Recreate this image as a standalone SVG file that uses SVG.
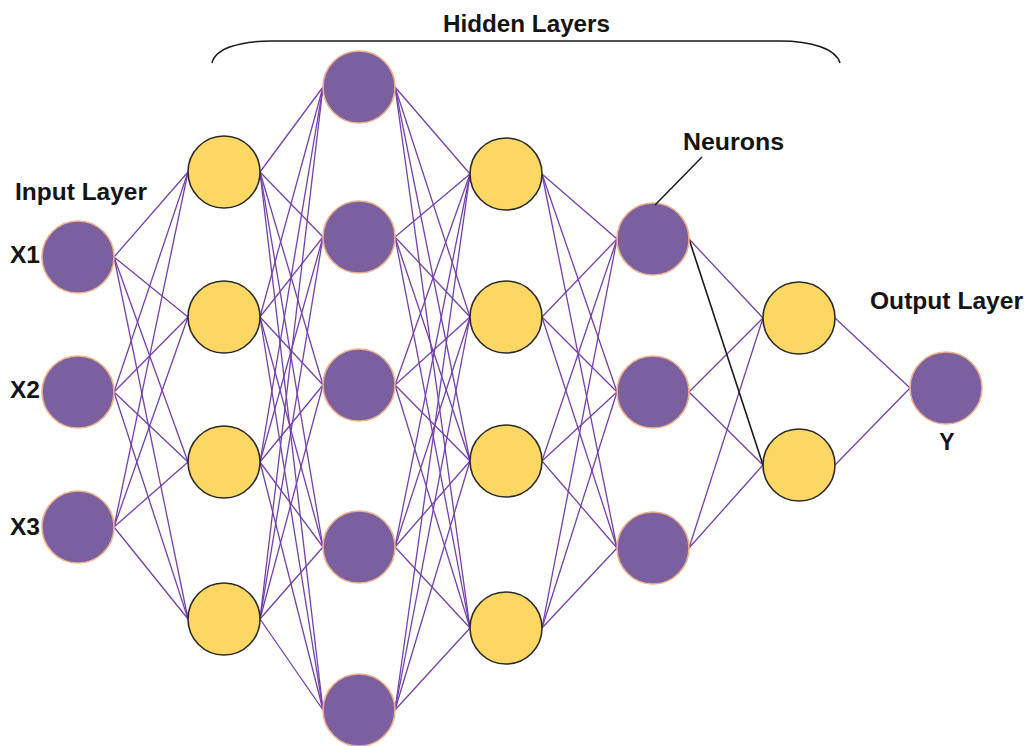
<svg xmlns="http://www.w3.org/2000/svg" width="1026" height="746" viewBox="0 0 1026 746">
  <style>
    .lbl { font-family: "Liberation Sans", Arial, sans-serif; font-weight: bold; font-size: 23px; fill: #141414; }
    .conn line { stroke: #7440ad; stroke-width: 1.3; }
    .conn line.dark { stroke: #1a1a1a; stroke-width: 1.6; }
    .purple { fill: #7b609f; stroke: #eeb08c; stroke-width: 1.6; }
    .yellow { fill: #fdd764; stroke: #2a2a2a; stroke-width: 1.6; }
    .ink { fill: none; stroke: #1a1a1a; stroke-width: 1.5; }
  </style>
  <rect width="1026" height="746" fill="#ffffff"/>

  <!-- brace over the hidden layers -->
  <g id="hidden-brace">
    <path class="ink" d="M212,63 C215,49 238,41 272,41 L780,41 C812,41 836,49 840,63"/>
    <text class="lbl" x="443" y="32" textLength="167" lengthAdjust="spacingAndGlyphs">Hidden Layers</text>
  </g>

  <!-- weighted connections between consecutive layers -->
  <g id="connectors" class="conn">
    <!-- input -> hidden 1 -->
    <line x1="114" y1="257" x2="188" y2="172"/><line x1="114" y1="257" x2="188" y2="317"/><line x1="114" y1="257" x2="188" y2="462"/><line x1="114" y1="257" x2="188" y2="619"/>
    <line x1="114" y1="392" x2="188" y2="172"/><line x1="114" y1="392" x2="188" y2="317"/><line x1="114" y1="392" x2="188" y2="462"/><line x1="114" y1="392" x2="188" y2="619"/>
    <line x1="114" y1="527" x2="188" y2="172"/><line x1="114" y1="527" x2="188" y2="317"/><line x1="114" y1="527" x2="188" y2="462"/><line x1="114" y1="527" x2="188" y2="619"/>
    <!-- hidden 1 -> hidden 2 -->
    <line x1="260" y1="172" x2="323" y2="87"/><line x1="260" y1="172" x2="323" y2="237"/><line x1="260" y1="172" x2="323" y2="385"/><line x1="260" y1="172" x2="323" y2="547"/><line x1="260" y1="172" x2="323" y2="710"/>
    <line x1="260" y1="317" x2="323" y2="87"/><line x1="260" y1="317" x2="323" y2="237"/><line x1="260" y1="317" x2="323" y2="385"/><line x1="260" y1="317" x2="323" y2="547"/><line x1="260" y1="317" x2="323" y2="710"/>
    <line x1="260" y1="462" x2="323" y2="87"/><line x1="260" y1="462" x2="323" y2="237"/><line x1="260" y1="462" x2="323" y2="385"/><line x1="260" y1="462" x2="323" y2="547"/><line x1="260" y1="462" x2="323" y2="710"/>
    <line x1="260" y1="619" x2="323" y2="87"/><line x1="260" y1="619" x2="323" y2="237"/><line x1="260" y1="619" x2="323" y2="385"/><line x1="260" y1="619" x2="323" y2="547"/><line x1="260" y1="619" x2="323" y2="710"/>
    <!-- hidden 2 -> hidden 3 -->
    <line x1="395" y1="87" x2="470" y2="174"/><line x1="395" y1="87" x2="470" y2="317"/><line x1="395" y1="87" x2="470" y2="461"/><line x1="395" y1="87" x2="470" y2="628"/>
    <line x1="395" y1="237" x2="470" y2="174"/><line x1="395" y1="237" x2="470" y2="317"/><line x1="395" y1="237" x2="470" y2="461"/><line x1="395" y1="237" x2="470" y2="628"/>
    <line x1="395" y1="385" x2="470" y2="174"/><line x1="395" y1="385" x2="470" y2="317"/><line x1="395" y1="385" x2="470" y2="461"/><line x1="395" y1="385" x2="470" y2="628"/>
    <line x1="395" y1="547" x2="470" y2="174"/><line x1="395" y1="547" x2="470" y2="317"/><line x1="395" y1="547" x2="470" y2="461"/><line x1="395" y1="547" x2="470" y2="628"/>
    <line x1="395" y1="710" x2="470" y2="174"/><line x1="395" y1="710" x2="470" y2="317"/><line x1="395" y1="710" x2="470" y2="461"/><line x1="395" y1="710" x2="470" y2="628"/>
    <!-- hidden 3 -> hidden 4 -->
    <line x1="542" y1="174" x2="617" y2="239"/><line x1="542" y1="174" x2="617" y2="392"/><line x1="542" y1="174" x2="617" y2="548"/>
    <line x1="542" y1="317" x2="617" y2="239"/><line x1="542" y1="317" x2="617" y2="392"/><line x1="542" y1="317" x2="617" y2="548"/>
    <line x1="542" y1="461" x2="617" y2="239"/><line x1="542" y1="461" x2="617" y2="392"/><line x1="542" y1="461" x2="617" y2="548"/>
    <line x1="542" y1="628" x2="617" y2="239"/><line x1="542" y1="628" x2="617" y2="392"/><line x1="542" y1="628" x2="617" y2="548"/>
    <!-- hidden 4 -> hidden 5 -->
    <line x1="689" y1="239" x2="763" y2="318"/>
    <line x1="689" y1="392" x2="763" y2="318"/><line x1="689" y1="392" x2="763" y2="465"/>
    <line x1="689" y1="548" x2="763" y2="318"/><line x1="689" y1="548" x2="763" y2="465"/>
    <line class="dark" x1="689" y1="239" x2="763" y2="465"/>
    <!-- hidden 5 -> output -->
    <line x1="835" y1="318" x2="910" y2="388"/><line x1="835" y1="465" x2="910" y2="388"/>
  </g>

  <!-- input layer -->
  <g id="input-layer">
    <text class="lbl" x="15" y="200" textLength="132" lengthAdjust="spacingAndGlyphs">Input Layer</text>
    <g id="x1"><circle class="purple" cx="78" cy="257" r="36"/><text class="lbl" x="10" y="263" textLength="30" lengthAdjust="spacingAndGlyphs">X1</text></g>
    <g id="x2"><circle class="purple" cx="78" cy="392" r="36"/><text class="lbl" x="10" y="398" textLength="30" lengthAdjust="spacingAndGlyphs">X2</text></g>
    <g id="x3"><circle class="purple" cx="78" cy="527" r="36"/><text class="lbl" x="10" y="535" textLength="30" lengthAdjust="spacingAndGlyphs">X3</text></g>
  </g>

  <!-- hidden layer 1 -->
  <g id="h1-1"><circle class="yellow" cx="224" cy="172" r="36"/></g>
  <g id="h1-2"><circle class="yellow" cx="224" cy="317" r="36"/></g>
  <g id="h1-3"><circle class="yellow" cx="224" cy="462" r="36"/></g>
  <g id="h1-4"><circle class="yellow" cx="224" cy="619" r="36"/></g>

  <!-- hidden layer 2 -->
  <g id="h2-1"><circle class="purple" cx="359" cy="87" r="36"/></g>
  <g id="h2-2"><circle class="purple" cx="359" cy="237" r="36"/></g>
  <g id="h2-3"><circle class="purple" cx="359" cy="385" r="36"/></g>
  <g id="h2-4"><circle class="purple" cx="359" cy="547" r="36"/></g>
  <g id="h2-5"><circle class="purple" cx="359" cy="710" r="36"/></g>

  <!-- hidden layer 3 -->
  <g id="h3-1"><circle class="yellow" cx="506" cy="174" r="36"/></g>
  <g id="h3-2"><circle class="yellow" cx="506" cy="317" r="36"/></g>
  <g id="h3-3"><circle class="yellow" cx="506" cy="461" r="36"/></g>
  <g id="h3-4"><circle class="yellow" cx="506" cy="628" r="36"/></g>

  <!-- hidden layer 4, with the neuron callout -->
  <g id="h4-1">
    <circle class="purple" cx="653" cy="239" r="36"/>
    <line class="ink" x1="702" y1="157" x2="655" y2="205"/>
    <text class="lbl" x="683" y="150" textLength="101" lengthAdjust="spacingAndGlyphs">Neurons</text>
  </g>
  <g id="h4-2"><circle class="purple" cx="653" cy="392" r="36"/></g>
  <g id="h4-3"><circle class="purple" cx="653" cy="548" r="36"/></g>

  <!-- hidden layer 5 -->
  <g id="h5-1"><circle class="yellow" cx="799" cy="318" r="36"/></g>
  <g id="h5-2"><circle class="yellow" cx="799" cy="465" r="36"/></g>

  <!-- output layer -->
  <g id="output-layer">
    <text class="lbl" x="870" y="309" textLength="153" lengthAdjust="spacingAndGlyphs">Output Layer</text>
    <g id="y"><circle class="purple" cx="946" cy="388" r="36"/><text class="lbl" x="947" y="450" text-anchor="middle">Y</text></g>
  </g>
</svg>
